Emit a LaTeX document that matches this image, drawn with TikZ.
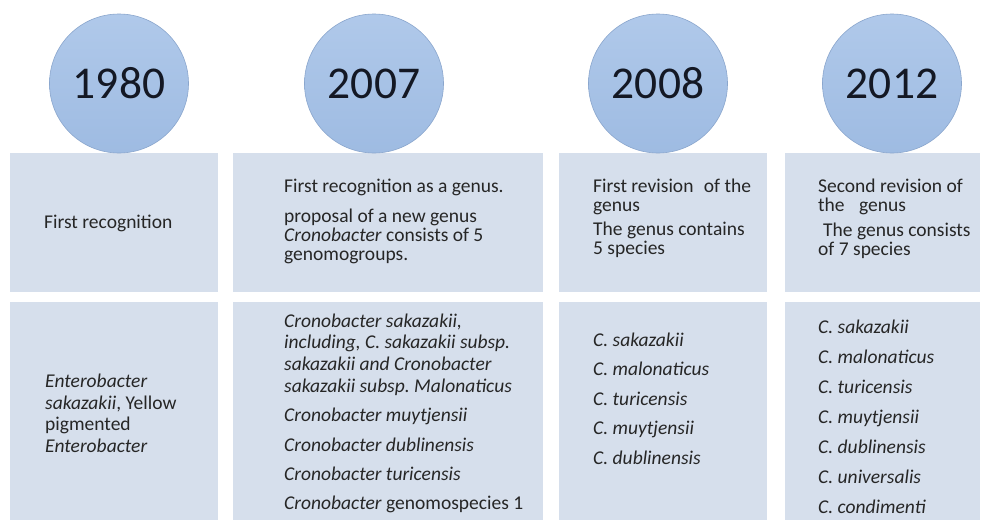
\documentclass[tikz,border=0pt]{standalone}
\usepackage{fontspec}
\setmainfont{Carlito}
\frenchspacing
\definecolor{boxfill}{HTML}{D6DFEC}
\definecolor{circtop}{HTML}{B0C9EA}
\definecolor{circbot}{HTML}{9EBBE2}
\definecolor{circline}{HTML}{8AA6CD}
\definecolor{txtcol}{HTML}{262626}
\definecolor{yearcol}{HTML}{141824}
\begin{document}
\begin{tikzpicture}[x=1pt,y=-1pt,
  cellbox/.style={rectangle, fill=boxfill, draw=none, anchor=north west, inner sep=0pt},
  yearc/.style={circle, minimum size=139pt, inner sep=0pt, top color=circtop, bottom color=circbot, draw=circline, line width=0.6pt, text=yearcol, font=\fontsize{45.5}{54}\selectfont},
  txt/.style={anchor=base west, inner sep=0pt, text=txtcol, font=\fontsize{19.5}{22}\selectfont}]
\useasboundingbox (0,0) rectangle (983,520);
\fill[white] (0,0) rectangle (983,520);
% boxes row 1
\node[cellbox, minimum width=208pt, minimum height=139pt] (b11) at (10,153) {};
\node[cellbox, minimum width=310pt, minimum height=139pt] (b12) at (233,153) {};
\node[cellbox, minimum width=208pt, minimum height=139pt] (b13) at (559,153) {};
\node[cellbox, minimum width=195pt, minimum height=139pt] (b14) at (785,153) {};
% boxes row 2
\node[cellbox, minimum width=208pt, minimum height=218pt] (b21) at (10,302) {};
\node[cellbox, minimum width=310pt, minimum height=218pt] (b22) at (233,302) {};
\node[cellbox, minimum width=208pt, minimum height=218pt] (b23) at (559,302) {};
\node[cellbox, minimum width=195pt, minimum height=218pt] (b24) at (785,302) {};
% circles
\node[yearc] (y1) at (119,83.5) {1980};
\node[yearc] (y2) at (374,83.5) {2007};
\node[yearc] (y3) at (658,83.5) {2008};
\node[yearc] (y4) at (892,83.5) {2012};
% row 1 text
\node[txt] (t11) at (44,228) {First recognition};
\node[txt] (t12a) at (284,192) {First recognition as a genus.};
\node[txt] (t12b) at (284,222) {proposal of a new genus};
\node[txt] (t12c) at (284,241) {\textit{Cronobacter} consists of 5};
\node[txt] (t12d) at (284,260) {genomogroups.};
\node[txt] (t13a) at (593,192) {First revision\hspace{6pt} of the};
\node[txt] (t13b) at (593,211) {genus};
\node[txt] (t13c) at (593,235) {The genus contains};
\node[txt] (t13d) at (593,254) {5 species};
\node[txt] (t14a) at (818,192) {Second revision of};
\node[txt] (t14b) at (818,211) {the\hspace{10pt} genus};
\node[txt] (t14c) at (823,236) {The genus consists};
\node[txt] (t14d) at (818,255) {of 7 species};
% row 2 text
\node[txt] (t21a) at (45,387) {\textit{Enterobacter}};
\node[txt] (t21b) at (45,409) {\textit{sakazakii},~Yellow};
\node[txt] (t21c) at (45,430) {pigmented};
\node[txt] (t21d) at (45,452) {\textit{Enterobacter}};
\node[txt] (t22a) at (284,327) {\textit{Cronobacter sakazakii,}};
\node[txt] (t22b) at (284,348) {\textit{including, C. sakazakii subsp.}};
\node[txt] (t22c) at (284,370) {\textit{sakazakii and Cronobacter}};
\node[txt] (t22d) at (284,392) {\textit{sakazakii subsp. Malonaticus}};
\node[txt] (t22e) at (284,421) {\textit{Cronobacter muytjensii}};
\node[txt] (t22f) at (284,451) {\textit{Cronobacter dublinensis}};
\node[txt] (t22g) at (284,480) {\textit{Cronobacter turicensis}};
\node[txt] (t22h) at (284,509) {\textit{Cronobacter} genomospecies 1};
\node[txt] (t23a) at (593,346) {\textit{C. sakazakii}};
\node[txt] (t23b) at (593,375) {\textit{C. malonaticus}};
\node[txt] (t23c) at (593,405) {\textit{C. turicensis}};
\node[txt] (t23d) at (593,434) {\textit{C. muytjensii}};
\node[txt] (t23e) at (593,464) {\textit{C. dublinensis}};
\node[txt] (t24a) at (818,333) {\textit{C. sakazakii}};
\node[txt] (t24b) at (818,363) {\textit{C. malonaticus}};
\node[txt] (t24c) at (818,393) {\textit{C. turicensis}};
\node[txt] (t24d) at (818,423) {\textit{C. muytjensii}};
\node[txt] (t24e) at (818,453) {\textit{C. dublinensis}};
\node[txt] (t24f) at (818,483) {\textit{C. universalis}};
\node[txt] (t24g) at (818,513) {\textit{C. condimenti}};
\end{tikzpicture}
\end{document}
